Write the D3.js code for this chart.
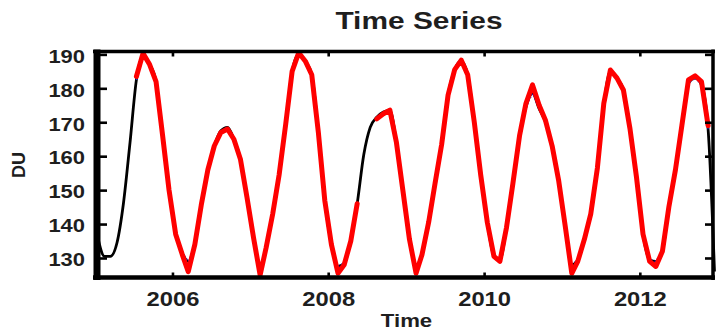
<!DOCTYPE html>
<html>
<head>
<meta charset="utf-8">
<script src="https://cdn.jsdelivr.net/npm/d3@7"></script>
<style>
  body { margin: 0; background: #fff; }
  text { font-family: "Liberation Sans", Arial, sans-serif; font-weight: bold; fill: #1e1e1e; }
</style>
</head>
<body>
<script>
// monthly values, Jan 2005 .. Dec 2012
var blackValues = [136, 130.5, 130.5, 134.5, 146, 164, 182.5, 189.5, 187, 182, 166, 150,
  137.5, 131.5, 129, 134, 145.6, 156, 163, 167.5, 168.5, 165, 159, 148,
  136, 127.5, 133, 143, 154.5, 169.5, 185, 190, 188, 184, 167, 147,
  134, 127.5, 128.5, 135, 146, 160.5, 168.5, 171.5, 173, 173.5, 164, 150,
  135.5, 127.5, 131, 140.5, 152, 163.5, 178, 185.5, 188, 184, 170, 154.5,
  140.5, 130.5, 129.5, 139, 152, 166, 174.5, 178.5, 174, 170, 163, 153,
  139.5, 128, 129.5, 135.5, 143, 156.5, 175, 185, 183, 179.5, 168, 154,
  137, 129.5, 129, 132, 145, 156, 169, 181.5, 183, 181, 168, 126];

var blueValues = [null, null, null, null, null, null, 182.5, 189.5, 187, 182, 166, 150,
  137.5, 131.5, 129, 134, 145.6, 156, 163, 167.5, 168.5, 165, 159, 148,
  136, 127.5, 133, 143, 154.5, 169.5, 185, 190, 188, 184, 167, 147,
  134, 127.5, 128.5, 135, 146, null, null, 171.5, 173, 173.5, 164, 150,
  135.5, 127.5, 131, 140.5, 152, 163.5, 178, 185.5, 188, 184, 170, 154.5,
  140.5, 130.5, 129.5, 139, 152, 166, 174.5, 178.5, 174, 170, 163, 153,
  139.5, 128, 129.5, 135.5, 143, 156.5, 175, 185, 183, 179.5, 168, 154,
  137, 129.5, 129, 132, 145, 156, 169, 181.5, 183, 181, 168, null];

var redValues = [null, null, null, null, null, null, 183.5, 190.3, 187, 182, 166, 150,
  137, 131, 126, 134, 145.6, 156, 163, 167, 168, 165, 159, 148,
  136, 125, 133, 143, 154.5, 169.5, 185, 190.5, 188, 184, 167, 147,
  134, 125.5, 128, 135, 146, null, null, 171, 172.5, 173.6, 164, 150,
  135.5, 125.5, 131, 140.5, 152, 163.5, 178, 185.5, 188.3, 184, 170, 154.5,
  140.5, 130.5, 129, 139, 152, 166, 175.5, 181, 175, 170.5, 163, 153,
  139.5, 125.5, 129, 135.5, 143, 156.5, 175.5, 185.4, 183, 179.5, 168, 154,
  137, 129, 127.5, 132, 145, 156, 169, 182.5, 183.7, 182, 169, null];

var yTicks = [130, 140, 150, 160, 170, 180, 190];
var titleText = "Time Series";
var xLabel = "Time";
var yLabel = "DU";

var months = d3.range(blackValues.length).map(function(i) { return new Date(2005, i, 16); });

var W = 717, H = 330;
var plotLeft = 97, plotRight = 713, plotTop = 51.5, plotBottom = 277.5;
var stretch = 1.22;

var svg = d3.select("body").append("svg")
  .attr("width", W)
  .attr("height", H);

var x = d3.scaleTime()
  .domain([new Date(2005, 0, 1), new Date(2012, 11, 9)])
  .range([94.6, plotRight]);
var y = d3.scaleLinear()
  .domain([124.25, 190.85])
  .range([plotBottom, plotTop]);

// series
function lineFor(vals, curve) {
  return d3.line()
    .defined(function(d, i) { return vals[i] != null; })
    .curve(curve || d3.curveLinear)
    .x(function(d, i) { return x(months[i]); })
    .y(function(d, i) { return y(vals[i]); })(vals);
}

svg.append("path")
  .attr("d", lineFor(blackValues, d3.curveMonotoneX))
  .attr("fill", "none")
  .attr("stroke", "#000")
  .attr("stroke-width", 2.8)
  .attr("stroke-linejoin", "round");

svg.append("path")
  .attr("d", lineFor(blueValues))
  .attr("fill", "none")
  .attr("stroke", "#2a2aff")
  .attr("stroke-width", 1.6)
  .attr("stroke-dasharray", "1,2.5");

svg.append("path")
  .attr("d", lineFor(redValues))
  .attr("fill", "none")
  .attr("stroke", "#ff0000")
  .attr("stroke-width", 5)
  .attr("stroke-linejoin", "round")
  .attr("stroke-linecap", "round");

// frame
var frame = svg.append("g").attr("stroke", "#000");
frame.append("line").attr("x1", 93).attr("x2", 715).attr("y1", plotTop).attr("y2", plotTop).attr("stroke-width", 3.5);
frame.append("line").attr("x1", 93).attr("x2", 715).attr("y1", plotBottom).attr("y2", plotBottom).attr("stroke-width", 4.5);
frame.append("line").attr("x1", plotLeft).attr("x2", plotLeft).attr("y1", 49.5).attr("y2", 280).attr("stroke-width", 7);
frame.append("line").attr("x1", plotRight).attr("x2", plotRight).attr("y1", 49.5).attr("y2", 280).attr("stroke-width", 3.5);

// axes
var xTicks = d3.timeYear.every(2);

var xb = svg.append("g")
  .attr("transform", "translate(0," + plotBottom + ")")
  .call(d3.axisBottom(x).ticks(xTicks).tickSizeInner(-5).tickSizeOuter(0).tickFormat(d3.timeFormat("%Y")));
xb.selectAll("text")
  .attr("y", 0).attr("dy", null)
  .attr("transform", "translate(0,28) scale(" + stretch + ",1)")
  .style("font-size", "19.5px");

svg.append("g")
  .attr("transform", "translate(0," + plotTop + ")")
  .call(d3.axisTop(x).ticks(xTicks).tickSizeInner(-5).tickSizeOuter(0).tickFormat(""));

var yl = svg.append("g")
  .attr("transform", "translate(" + plotLeft + ",0)")
  .call(d3.axisLeft(y).tickValues(yTicks).tickSizeInner(-10).tickSizeOuter(0));
yl.selectAll("text")
  .attr("x", 0).attr("dy", null)
  .attr("transform", "translate(-12,7.8) scale(" + stretch + ",1)")
  .style("font-size", "18px");

svg.append("g")
  .attr("transform", "translate(" + plotRight + ",0)")
  .call(d3.axisRight(y).tickValues(yTicks).tickSizeInner(-8).tickSizeOuter(0).tickFormat(""));

svg.selectAll(".domain").remove();
svg.selectAll(".tick line").attr("stroke", "#000").attr("stroke-width", 2.6);

// labels
svg.append("text")
  .attr("text-anchor", "middle")
  .attr("transform", "translate(419,29.3) scale(" + stretch + ",1)")
  .style("font-size", "24.5px")
  .text(titleText);

svg.append("text")
  .attr("text-anchor", "middle")
  .attr("transform", "translate(406.5,326.5) scale(1.2,1)")
  .style("font-size", "18.5px")
  .text(xLabel);

svg.append("text")
  .attr("text-anchor", "middle")
  .attr("transform", "translate(25,165) rotate(-90)")
  .style("font-size", "18px")
  .text(yLabel);
</script>
</body>
</html>
